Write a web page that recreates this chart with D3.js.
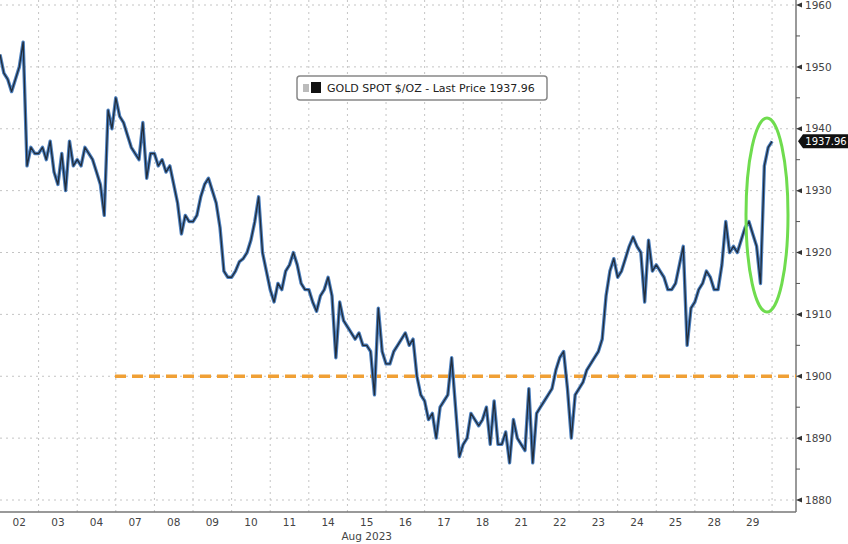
<!DOCTYPE html>
<html>
<head>
<meta charset="utf-8">
<script src="https://cdn.jsdelivr.net/npm/d3@7"></script>
<style>
  body { margin: 0; background: #fff; }
  svg { display: block; font-family: "DejaVu Sans", sans-serif; }
  .tick-label { font-size: 10.5px; fill: #444; }
</style>
</head>
<body>
<div id="chart"></div>
<script>
// trading days shown on the x axis (Aug 2023)
const days = ['02', '03', '04', '07', '08', '09', '10', '11', '14', '15', '16',
  '17', '18', '21', '22', '23', '24', '25', '28', '29'];

// gold spot $/oz, 10 readings per trading day, last value is the last price
const prices = [
  1952, 1949, 1948, 1946, 1948, 1950, 1954, 1934, 1937, 1936, // 02
  1936, 1937, 1935, 1938, 1933, 1931, 1936, 1930, 1938, 1934, // 03
  1935, 1934, 1937, 1936, 1935, 1933, 1931, 1926, 1943, 1940, // 04
  1945, 1942, 1941, 1939, 1937, 1936, 1935, 1941, 1932, 1936, // 07
  1936, 1934, 1935, 1933, 1934, 1931, 1928, 1923, 1926, 1925, // 08
  1925, 1926, 1929, 1931, 1932, 1930, 1928, 1924, 1917, 1916, // 09
  1916, 1917, 1918.5, 1919, 1920, 1922, 1925, 1929, 1920, 1917, // 10
  1914, 1912, 1915, 1914, 1917, 1918, 1920, 1918, 1915, 1914, // 11
  1914, 1912, 1910.5, 1913, 1914, 1916, 1913, 1903, 1912, 1909, // 14
  1908, 1907, 1906, 1907, 1905, 1905, 1904, 1897, 1911, 1904, // 15
  1902, 1902, 1904, 1905, 1906, 1907, 1905, 1906, 1900, 1897, // 16
  1896, 1893, 1894, 1890, 1895, 1896, 1897, 1903, 1895, 1887, // 17
  1889, 1890, 1894, 1893, 1892, 1893, 1895, 1889, 1896, 1889, // 18
  1889, 1891, 1886, 1893, 1890, 1889, 1888, 1898, 1886, 1894, // 21
  1895, 1896, 1897, 1898, 1901, 1903, 1904, 1898, 1890, 1897, // 22
  1898, 1899, 1901, 1902, 1903, 1904, 1906, 1913, 1917, 1919, // 23
  1916, 1917, 1919, 1921, 1922.5, 1921, 1920, 1912, 1922, 1917, // 24
  1918, 1917, 1916, 1914, 1914, 1915, 1918, 1921, 1905, 1911, // 25
  1912, 1914, 1915, 1917, 1916, 1914, 1914, 1918, 1925, 1920, // 28
  1921, 1920, 1922, 1924, 1925, 1923, 1921, 1915, 1934, 1937, 1937.96 // 29
];
const perDay = 10;

const yTicks = [1880, 1890, 1900, 1910, 1920, 1930, 1940, 1950, 1960];
const yMinorTicks = [1885, 1895, 1905, 1915, 1925, 1935, 1945, 1955];
const supportLevel = 1900;
const lastPrice = 1937.96;
const legendText = 'GOLD SPOT $/OZ - Last Price 1937.96';

const width = 848;
const height = 544;
const plot = { left: 0, right: 796, top: 0, bottom: 512 };

const svg = d3.select('#chart').append('svg')
  .attr('width', width)
  .attr('height', height);

const x = d3.scaleLinear()
  .domain([0, days.length + 0.62])
  .range([plot.left, plot.right]);

const y = d3.scaleLinear()
  .domain([1880, 1960])
  .range([500, 5]);

// gridlines
svg.append('g')
  .selectAll('line')
  .data(yTicks)
  .join('line')
  .attr('x1', plot.left)
  .attr('x2', plot.right)
  .attr('y1', (d) => y(d))
  .attr('y2', (d) => y(d))
  .attr('stroke', '#c4c4c4')
  .attr('stroke-dasharray', '2,4');

svg.append('g')
  .selectAll('line')
  .data(d3.range(1, days.length + 1))
  .join('line')
  .attr('x1', (d) => x(d))
  .attr('x2', (d) => x(d))
  .attr('y1', plot.top)
  .attr('y2', plot.bottom)
  .attr('stroke', '#c4c4c4')
  .attr('stroke-dasharray', '2,4');

// axis frame
svg.append('line')
  .attr('x1', plot.left).attr('x2', plot.right)
  .attr('y1', plot.bottom).attr('y2', plot.bottom)
  .attr('stroke', '#777').attr('stroke-width', 1.5);
svg.append('line')
  .attr('x1', plot.right).attr('x2', plot.right)
  .attr('y1', plot.top).attr('y2', plot.bottom)
  .attr('stroke', '#777').attr('stroke-width', 1.5);

// 1900 level
svg.append('line')
  .attr('x1', 115)
  .attr('x2', plot.right)
  .attr('y1', y(supportLevel))
  .attr('y2', y(supportLevel))
  .attr('stroke', '#f0a035')
  .attr('stroke-width', 3.5)
  .attr('stroke-dasharray', '11,6');

// price line: blue body with dark core
const line = d3.line()
  .x((d, i) => x(i / perDay))
  .y((d) => y(d));

svg.append('path')
  .datum(prices)
  .attr('d', line)
  .attr('fill', 'none')
  .attr('stroke', '#4d80bf')
  .attr('stroke-width', 3.4)
  .attr('stroke-linejoin', 'round');

svg.append('path')
  .datum(prices)
  .attr('d', line)
  .attr('fill', 'none')
  .attr('stroke', '#212c3a')
  .attr('stroke-width', 1.3)
  .attr('stroke-linejoin', 'round');

// green highlight round the last move
svg.append('ellipse')
  .attr('cx', 767)
  .attr('cy', 215)
  .attr('rx', 21)
  .attr('ry', 97)
  .attr('fill', 'none')
  .attr('stroke', '#6fdc4e')
  .attr('stroke-width', 3);

// right axis
const yAxis = svg.append('g');
yAxis.selectAll('path')
  .data(yTicks)
  .join('path')
  .attr('d', (d) => `M${plot.right},${y(d)} l6,-2.5 v5 Z`)
  .attr('fill', '#333');
yAxis.selectAll('line')
  .data(yMinorTicks)
  .join('line')
  .attr('x1', plot.right).attr('x2', plot.right + 4)
  .attr('y1', (d) => y(d)).attr('y2', (d) => y(d))
  .attr('stroke', '#555');
yAxis.selectAll('text')
  .data(yTicks)
  .join('text')
  .attr('class', 'tick-label')
  .attr('x', plot.right + 9)
  .attr('y', (d) => y(d))
  .attr('dy', '0.35em')
  .text((d) => d);

// last price tag
const tag = svg.append('g')
  .attr('transform', `translate(${plot.right + 2},${y(lastPrice)})`);
tag.append('path')
  .attr('d', 'M0,0 L5,-7 H50 V7 H5 Z')
  .attr('fill', '#111');
tag.append('text')
  .attr('x', 28)
  .attr('dy', '0.35em')
  .attr('text-anchor', 'middle')
  .attr('fill', '#fff')
  .attr('font-size', '10px')
  .text(lastPrice.toFixed(2));

// bottom axis labels
svg.append('g')
  .selectAll('text')
  .data(days)
  .join('text')
  .attr('class', 'tick-label')
  .attr('x', (d, i) => x(i + 0.5))
  .attr('y', 526)
  .attr('text-anchor', 'middle')
  .text((d) => d);

svg.append('text')
  .attr('class', 'tick-label')
  .attr('x', x(9.5))
  .attr('y', 540)
  .attr('text-anchor', 'middle')
  .text('Aug 2023');

// legend
const legend = svg.append('g').attr('transform', 'translate(297,76)');
legend.append('rect')
  .attr('width', 250)
  .attr('height', 24)
  .attr('rx', 3)
  .attr('fill', '#fff')
  .attr('stroke', '#888')
  .attr('stroke-width', 1.5);
legend.append('rect')
  .attr('x', 6).attr('y', 8)
  .attr('width', 6).attr('height', 8)
  .attr('fill', '#bbb');
legend.append('rect')
  .attr('x', 14).attr('y', 6)
  .attr('width', 10).attr('height', 11)
  .attr('fill', '#111');
legend.append('text')
  .attr('x', 30)
  .attr('y', 12)
  .attr('dy', '0.35em')
  .attr('font-size', '11px')
  .attr('fill', '#222')
  .text(legendText);
</script>
</body>
</html>
